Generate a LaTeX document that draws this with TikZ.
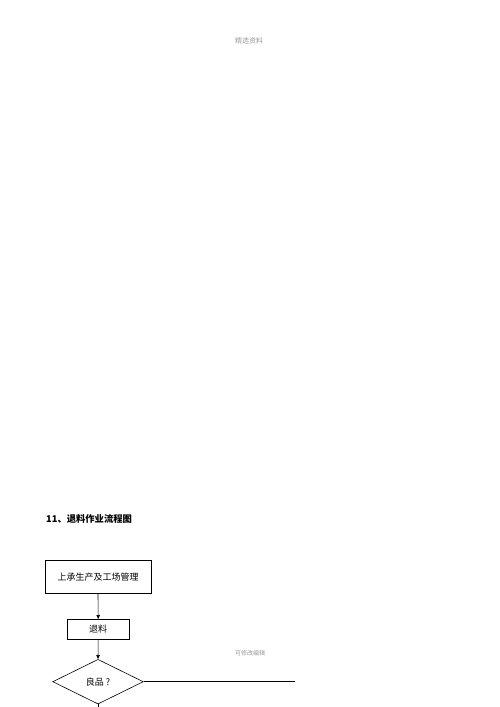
\documentclass[tikz,border=0pt]{standalone}
\usepackage{fontspec}
\newfontfamily\cjk{Noto Sans CJK SC}
\usetikzlibrary{shapes.geometric,arrows.meta}
\begin{document}
\begin{tikzpicture}[x=1pt,y=-1pt,
  flowbox/.style={draw,line width=0.6pt,inner sep=0pt,font=\cjk\fontsize{9}{10}\selectfont},
  flowarrow/.style={draw,line width=0.6pt,-{Triangle[length=4pt,width=3.5pt]}},
  plainline/.style={draw,line width=0.5pt}]
\useasboundingbox (0,0) rectangle (500,707);
\node[font=\cjk\fontsize{7}{8}\selectfont,text=black!40] (hdr) at (249,41) {精选资料};
\node[font=\cjk\fontsize{6}{7}\selectfont,text=black!40] (ftr) at (250,653) {可修改编辑};
\node[font=\cjk\bfseries\fontsize{9.3}{11}\selectfont,anchor=west,inner sep=0pt] (title) at (46,519) {11、退料作业流程图};
\node[flowbox,minimum width=106pt,minimum height=32.6pt] (b1) at (98,577) {上承生产及工场管理};
\node[flowbox,minimum width=61.7pt,minimum height=20pt] (b2) at (98.2,629.3) {退料};
\node[flowbox,diamond,aspect=2,minimum width=90.6pt,minimum height=44.7pt] (d1) at (98,681.7) {良品 ?};
\coordinate (r1) at (295,683.5);
\coordinate (dn) at (98,707);
\draw[flowarrow] (b1.south) -- (b2.north);
\draw[flowarrow] (b2.south) -- (d1.north);
\draw[plainline] (d1.east) -- (d1.east -| r1);
\draw[plainline] (d1.south) -- (dn);
\end{tikzpicture}
\end{document}
